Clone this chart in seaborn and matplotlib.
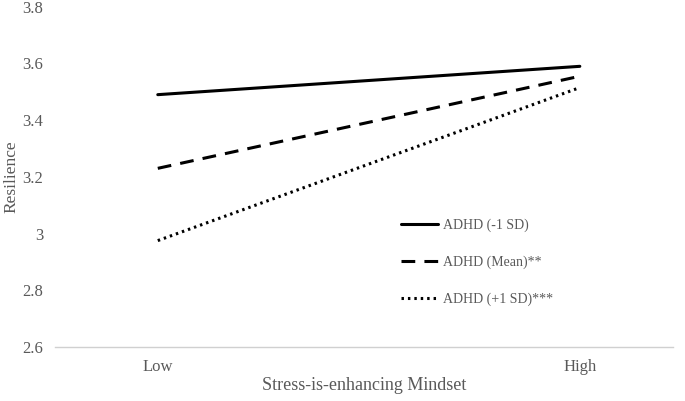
import pandas as pd
import numpy as np
import matplotlib
matplotlib.use("Agg")
import matplotlib.pyplot as plt
import seaborn as sns

# ===== DATA =====
mindset = ["Low", "High"]
groups = ["ADHD (-1 SD)", "ADHD (Mean)**", "ADHD (+1 SD)***"]
low_sd = [3.49, 3.59]
mean_adhd = [3.23, 3.555]
high_sd = [2.975, 3.515]
yticks = [2.6, 2.8, 3.0, 3.2, 3.4, 3.6, 3.8]
ytick_labels = ["2.6", "2.8", "3", "3.2", "3.4", "3.6", "3.8"]

df = pd.DataFrame({
    "mindset": mindset * 3,
    "resilience": low_sd + mean_adhd + high_sd,
    "group": np.repeat(groups, len(mindset)),
})

# ===== STYLE =====
sns.set_style("white")
plt.rcParams["font.family"] = ["Liberation Serif", "DejaVu Serif"]
grey = "#595959"

fig = plt.figure(figsize=(6.85, 4.01), dpi=100)
ax = fig.add_axes([0.080, 0.135, 0.902, 0.848])

dash_styles = ["", (4.5, 3), (0.8, 1.3)]
sns.lineplot(data=df, x="mindset", y="resilience", style="group",
             style_order=groups, dashes=dash_styles, color="black",
             linewidth=2.2, ax=ax, legend=True, sort=False)

ax.set_ylim(2.6, 3.8)
ax.set_xlim(-0.244, 1.22)
ax.set_yticks(yticks)
ax.set_yticklabels(ytick_labels)
ax.tick_params(axis="both", length=0, labelsize=12, colors=grey, pad=9)
ax.tick_params(axis="y", pad=8.5)

for side in ["left", "right", "top"]:
    ax.spines[side].set_visible(False)
ax.spines["bottom"].set_color("#d0d0d0")
ax.spines["bottom"].set_linewidth(1)

ax.set_xlabel("Stress-is-enhancing Mindset", fontsize=13, color=grey)
ax.set_ylabel("Resilience", fontsize=12.5, color=grey)
ax.yaxis.set_label_coords(-0.057, 0.5)
ax.xaxis.set_label_coords(0.5, -0.09)

# ===== LEGEND =====
handles, labels = ax.get_legend_handles_labels()
leg = ax.legend(handles, labels, frameon=False, loc="upper left",
                bbox_to_anchor=(0.54, 0.415), fontsize=10, labelspacing=1.7,
                handlelength=2.7, handletextpad=0.35)
for t in leg.get_texts():
    t.set_color(grey)

plt.savefig("out.png", dpi=100)
